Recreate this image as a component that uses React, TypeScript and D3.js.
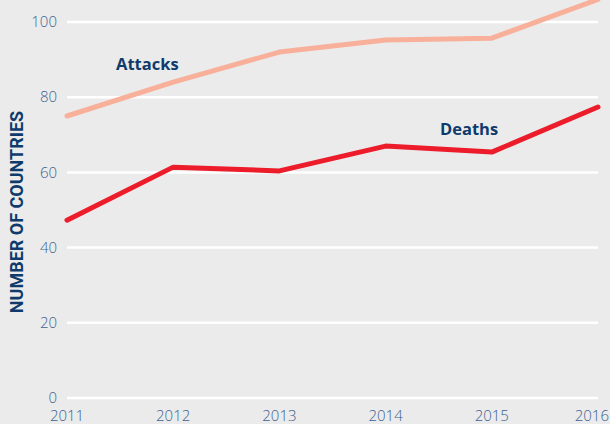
import React from "react";
import * as d3 from "d3";

const years = [2011, 2012, 2013, 2014, 2015, 2016];
const attacks = [75, 84, 92, 95.2, 95.7, 106];
const deaths = [47.3, 61.4, 60.4, 67, 65.4, 77.4];
const yTicks = [0, 20, 40, 60, 80, 100];

const W = 610;
const H = 424;

export default function App() {
  const x = d3.scaleLinear().domain([2011, 2016]).range([67, 598]);
  const y = d3.scaleLinear().domain([0, 100]).range([398, 22]);
  const line = d3
    .line<number>()
    .x((_, i) => x(years[i]))
    .y((d) => y(d));
  const tickColor = "#3d6391";
  const navy = "#0e3b6c";
  const font = "'Open Sans', Lato, sans-serif";
  return (
    <svg
      width={W}
      height={H}
      style={{ position: "fixed", left: 0, top: 0, display: "block" }}
    >
      <rect x={0} y={0} width={W} height={H} fill="#ebebeb" />
      {yTicks.map((t) => (
        <g key={t}>
          <line x1={67} x2={598} y1={y(t)} y2={y(t)} stroke="#ffffff" strokeWidth={2.5} />
          <text
            x={57}
            y={y(t)}
            dy="0.35em"
            textAnchor="end"
            fill={tickColor}
            fontFamily={font}
            fontSize={15}
            fontWeight={300}
          >
            {t}
          </text>
        </g>
      ))}
      {years.map((yr, i) => {
        const last = i === years.length - 1;
        return (
          <text
            key={yr}
            x={last ? 609 : x(yr)}
            y={421}
            textAnchor={last ? "end" : "middle"}
            fill={tickColor}
            fontFamily={font}
            fontSize={15}
            fontWeight={300}
          >
            {yr}
          </text>
        );
      })}
      <path d={line(attacks) || ""} fill="none" stroke="#f8b09a" strokeWidth={5} strokeLinejoin="round" strokeLinecap="round" />
      <path d={line(deaths) || ""} fill="none" stroke="#ec1c2b" strokeWidth={5} strokeLinejoin="round" strokeLinecap="round" />
      <text x={116} y={70} fill={navy} fontFamily={font} fontSize={16.5} fontWeight={700}>
        Attacks
      </text>
      <text x={440} y={135} fill={navy} fontFamily={font} fontSize={16.5} fontWeight={700}>
        Deaths
      </text>
      <text
        transform={`translate(22.5, 212) rotate(-90)`}
        textAnchor="middle"
        fill={navy}
        fontFamily="Roboto, 'Open Sans', sans-serif"
        fontSize={18}
        fontWeight={700}
      >
        NUMBER OF COUNTRIES
      </text>
    </svg>
  );
}
